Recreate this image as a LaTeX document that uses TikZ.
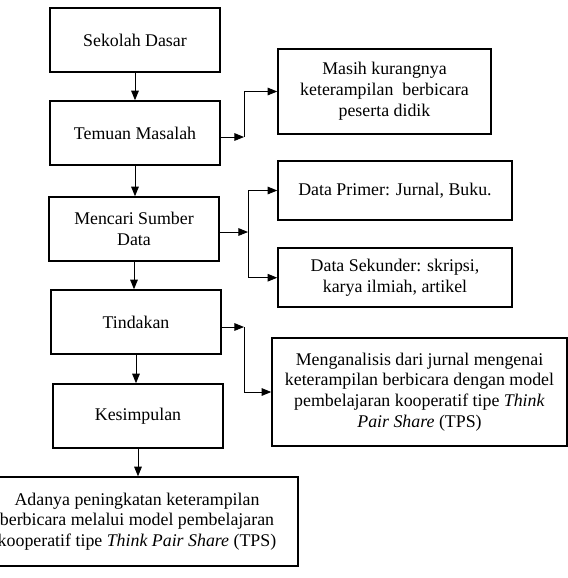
\documentclass[tikz,border=0pt]{standalone}
\usepackage{fontspec}
\setmainfont{Liberation Serif}
\usetikzlibrary{arrows.meta}

\begin{document}
\begin{tikzpicture}[
    kotak/.style={draw, line width=1.1pt, align=center, inner sep=2pt,
        font=\fontsize{12.7}{14.8}\selectfont},
    kiri/.style={kotak, minimum width=4.25cm, minimum height=1.6cm},
    panah/.style={-{Triangle[length=2.4mm,width=1.9mm]}, line width=0.6pt},
    garis/.style={line width=0.6pt}
]
    \useasboundingbox (0,0) rectangle (14.2,-14.45);

    % Alur utama di kiri
    \node[kiri] (sekolah) at (3.375,-1.0) {Sekolah Dasar};
    \node[kiri] (temuan) at (3.375,-3.325) {Temuan Masalah};
    \node[kiri] (sumber) at (3.35,-5.725) {Mencari Sumber\\ Data};
    \node[kiri] (tindakan) at (3.4,-8.05) {Tindakan};
    \node[kiri] (simpul) at (3.45,-10.4) {Kesimpulan};
    \node[kotak, minimum width=8.05cm, minimum height=2.225cm] (hasil) at (3.425,-13.04)
        {Adanya peningkatan keterampilan\\ berbicara melalui model pembelajaran\\
         kooperatif tipe \textit{Think Pair Share} (TPS)};

    % Kotak keterangan di kanan
    \node[kotak, minimum width=5.325cm, minimum height=2.125cm] (masalah) at (9.6125,-2.2875)
        {Masih kurangnya\\ keterampilan \ berbicara\\ peserta didik};
    \node[kotak, minimum width=5.85cm, minimum height=1.475cm] (primer) at (9.875,-4.7625)
        {Data Primer: Jurnal, Buku.};
    \node[kotak, minimum width=5.85cm, minimum height=1.475cm] (sekunder) at (9.875,-6.9425)
        {Data Sekunder: skripsi,\\ karya ilmiah, artikel};
    \node[kotak, minimum width=7.375cm, minimum height=2.7cm] (analisis) at (10.4875,-9.8)
        {Menganalisis dari jurnal mengenai\\ keterampilan berbicara dengan model\\
         pembelajaran kooperatif tipe \textit{Think}\\ \textit{Pair Share} (TPS)};

    % Titik cabang
    \coordinate (j1) at (6.1,-3.425);
    \coordinate (j2) at (6.2,-5.8);
    \coordinate (j3) at (6.1,-8.175);

    % Panah ke bawah
    \draw[panah] (sekolah.south) -- (sekolah.south |- temuan.north);
    \draw[panah] (temuan.south) -- (temuan.south |- sumber.north);
    \draw[panah] (sumber.south) -- (sumber.south |- tindakan.north);
    \draw[panah] (tindakan.south) -- (tindakan.south |- simpul.north);
    \draw[panah] (simpul.south) -- (simpul.south |- hasil.north);

    % Panah ke kanan
    \draw[panah] (temuan.east |- j1) -- (j1);
    \draw[panah] (j1) |- (masalah.west);
    \draw[panah] (sumber.east |- j2) -- (j2);
    \draw[panah] (j2) |- (primer.west);
    \draw[panah] (j2) |- (sekunder.west);
    \draw[panah] (tindakan.east |- j3) -- (j3);
    \draw[panah] (j3) |- (analisis.west);

\end{tikzpicture}
\end{document}
